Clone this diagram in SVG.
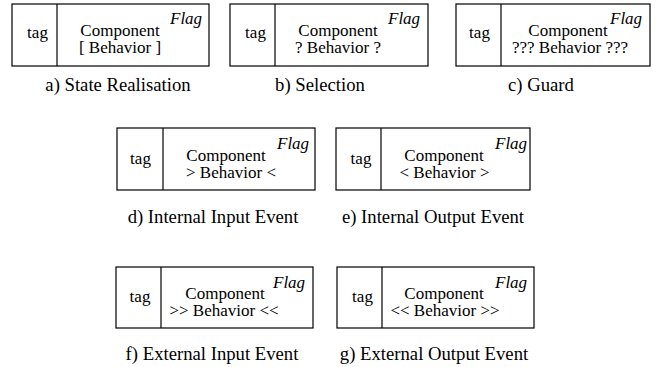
<svg xmlns="http://www.w3.org/2000/svg" width="657" height="367" viewBox="0 0 657 367">
<style>
rect.b{fill:#fff;stroke:#000;stroke-width:1.2}
line.d{stroke:#000;stroke-width:1.2}
text{font-family:"Liberation Serif","Times New Roman",serif;fill:#000}
.t{font-size:17px;text-anchor:middle}
.f{font-size:17px;font-style:italic}
.c{font-size:18.7px;text-anchor:middle}
</style>
<rect width="657" height="367" fill="#fff"/>
<g id="a">
<rect class="b" x="12" y="4" width="197" height="62"/>
<line class="d" x1="57" y1="4" x2="57" y2="66"/>
<text class="t" x="37.5" y="38">tag</text>
<text class="t" x="120" y="36">Component</text>
<text class="t" x="120" y="53">[ Behavior ]</text>
<text class="f" x="170" y="24">Flag</text>
<text class="c" x="118" y="91">a) State Realisation</text>
</g>
<g id="b">
<rect class="b" x="230" y="4" width="198" height="62"/>
<line class="d" x1="275" y1="4" x2="275" y2="66"/>
<text class="t" x="255.5" y="38">tag</text>
<text class="t" x="338" y="36">Component</text>
<text class="t" x="338" y="53">? Behavior ?</text>
<text class="f" x="388" y="24">Flag</text>
<text class="c" x="320" y="91">b) Selection</text>
</g>
<g id="c">
<rect class="b" x="456" y="4" width="194" height="62"/>
<line class="d" x1="501" y1="4" x2="501" y2="66"/>
<text class="t" x="479.5" y="38">tag</text>
<text class="t" x="568" y="36">Component</text>
<text class="t" x="570" y="53">??? Behavior ???</text>
<text class="f" x="610" y="24">Flag</text>
<text class="c" x="541" y="91">c) Guard</text>
</g>
<g id="d">
<rect class="b" x="117" y="128" width="198" height="62"/>
<line class="d" x1="163" y1="128" x2="163" y2="190"/>
<text class="t" x="140.5" y="164">tag</text>
<text class="t" x="226" y="161">Component</text>
<text class="t" x="231" y="178">&gt; Behavior &lt;</text>
<text class="f" x="277" y="149">Flag</text>
<text class="c" x="213" y="223">d) Internal Input Event</text>
</g>
<g id="e">
<rect class="b" x="336" y="128" width="194" height="62"/>
<line class="d" x1="381" y1="128" x2="381" y2="190"/>
<text class="t" x="361" y="164">tag</text>
<text class="t" x="444" y="161">Component</text>
<text class="t" x="444.5" y="178">&lt; Behavior &gt;</text>
<text class="f" x="495" y="149">Flag</text>
<text class="c" x="433" y="223">e) Internal Output Event</text>
</g>
<g id="f">
<rect class="b" x="116" y="267" width="197" height="61"/>
<line class="d" x1="161" y1="267" x2="161" y2="328"/>
<text class="t" x="140" y="302">tag</text>
<text class="t" x="225" y="299">Component</text>
<text class="t" x="224" y="316">&gt;&gt; Behavior &lt;&lt;</text>
<text class="f" x="273" y="288">Flag</text>
<text class="c" x="212" y="360">f) External Input Event</text>
</g>
<g id="g">
<rect class="b" x="337" y="267" width="197" height="61"/>
<line class="d" x1="382" y1="267" x2="382" y2="328"/>
<text class="t" x="362.5" y="302">tag</text>
<text class="t" x="444" y="299">Component</text>
<text class="t" x="445" y="316">&lt;&lt; Behavior &gt;&gt;</text>
<text class="f" x="495" y="288">Flag</text>
<text class="c" x="434" y="360">g) External Output Event</text>
</g>
<g id="connectors"/>
</svg>
